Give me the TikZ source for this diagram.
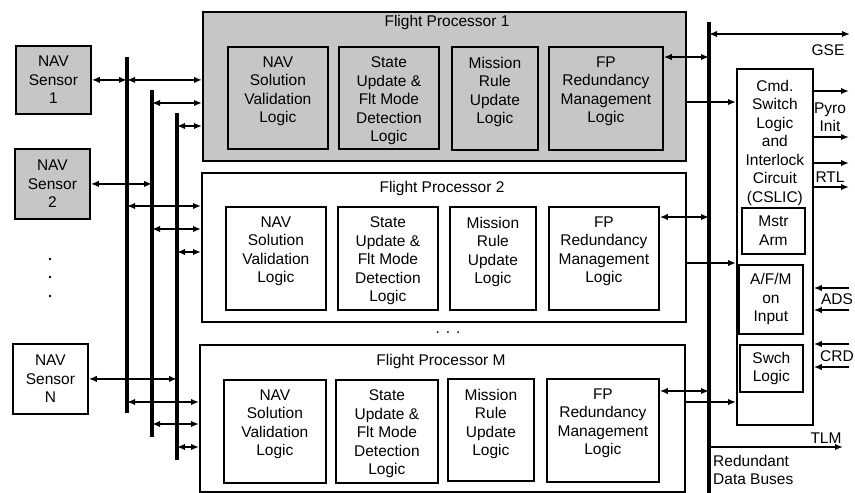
\documentclass[tikz,border=0pt]{standalone}
\usepackage{fontspec}
\setmainfont{Liberation Sans}
\usetikzlibrary{arrows.meta,calc}
\colorlet{shade}{gray!45}
\tikzset{
  x=1pt,y=-1pt,
  txt/.style={font=\fontsize{15.5}{18.5}\selectfont,align=center,inner sep=0pt},
  box/.style={draw,line width=1.8pt,inner sep=0pt,anchor=north west},
  sbox/.style={box,fill=shade},
  bus/.style={line width=3.5pt},
  ar/.style={line width=1.7pt,-{Latex[length=8pt,width=6.5pt]}},
  dar/.style={line width=1.7pt,{Latex[length=8pt,width=6.5pt]}-{Latex[length=8pt,width=6.5pt]}},
}
\newcommand\bx[6]{\node[#1,minimum width={#4-#2},minimum height={#5-#3}] (#6) at (#2,#3) {};}
\newcommand\btxt[2]{\node[txt,anchor=north] at ([yshift=-10.6pt]#1.north) {#2};}
\begin{document}
\begin{tikzpicture}
\useasboundingbox (0,0) rectangle (855,493);
% ---------- sensors
\bx{sbox}{15}{45}{90}{113}{s1}
\node[txt] at (s1.center) {NAV\\Sensor\\1};
\bx{sbox}{14}{148}{89}{218}{s2}
\node[txt] at (s2.center) {NAV\\Sensor\\2};
\bx{box}{12}{343}{87}{413}{sN}
\node[txt] at (sN.center) {NAV\\Sensor\\N};
\foreach \yy in {259,277,296} \fill (50,\yy) circle (1.4);
% ---------- flight processor 1
\bx{sbox}{202}{11}{685}{160}{fp1}
\node[txt] at (447,22) {Flight Processor 1};
\bx{sbox}{227}{46}{327}{148}{f1a}
\bx{sbox}{338}{46}{438}{148}{f1b}
\bx{sbox}{451}{46}{537}{149}{f1c}
\bx{sbox}{548}{46}{662}{149}{f1d}
\btxt{f1a}{NAV\\Solution\\Validation\\Logic}
\btxt{f1b}{State\\Update \&\\Flt Mode\\Detection\\Logic}
\btxt{f1c}{Mission\\Rule\\Update\\Logic}
\btxt{f1d}{FP\\Redundancy\\Management\\Logic}
% ---------- flight processor 2
\bx{box}{201}{172}{685}{321}{fp2}
\node[txt] at (442,188) {Flight Processor 2};
\bx{box}{225}{206}{325}{309}{f2a}
\bx{box}{337}{206}{437}{309}{f2b}
\bx{box}{449}{206}{535}{309}{f2c}
\bx{box}{548}{206}{658}{309}{f2d}
\btxt{f2a}{NAV\\Solution\\Validation\\Logic}
\btxt{f2b}{State\\Update \&\\Flt Mode\\Detection\\Logic}
\btxt{f2c}{Mission\\Rule\\Update\\Logic}
\btxt{f2d}{FP\\Redundancy\\Management\\Logic}
\node[txt] at (448,333) {.\hspace{6pt}.\hspace{6pt}.};
% ---------- flight processor M
\bx{box}{199}{344}{684}{491}{fpM}
\node[txt] at (441,361) {Flight Processor M};
\bx{box}{223}{379}{325}{482}{fMa}
\bx{box}{335}{379}{437}{482}{fMb}
\bx{box}{447}{378}{533}{480}{fMc}
\bx{box}{546}{378}{658}{481}{fMd}
\btxt{fMa}{NAV\\Solution\\Validation\\Logic}
\btxt{fMb}{State\\Update \&\\Flt Mode\\Detection\\Logic}
\btxt{fMc}{Mission\\Rule\\Update\\Logic}
\btxt{fMd}{FP\\Redundancy\\Management\\Logic}
% ---------- CSLIC
\bx{box}{736}{68}{812}{424}{cs}
\node[txt,anchor=north] at ([yshift=-11.6pt]cs.north) {Cmd.\\Switch\\Logic\\and\\Interlock\\Circuit\\(CSLIC)};
\node[box,txt,minimum width=63,minimum height=46] (ma) at (741,207) {Mstr\\Arm};
\node[box,txt,minimum width=64,minimum height=69] (af) at (738,264) {A/F/M\\on\\Input};
\node[box,txt,minimum width=63,minimum height=47] (sw) at (739,344) {Swch\\Logic};
% ---------- left buses
\coordinate (b1t) at (127,57);  \coordinate (b1b) at (127,413);
\coordinate (b2t) at (152,90);  \coordinate (b2b) at (152,437);
\coordinate (b3t) at (177,113); \coordinate (b3b) at (177,460);
\draw[bus] (b1t) -- (b1b);
\draw[bus] (b2t) -- (b2b);
\draw[bus] (b3t) -- (b3b);
% sensor links
\draw[dar] (s1.east) -- (s1.east -| b1t);
\draw[dar] (s2.east) -- (s2.east -| b2t);
\draw[dar] (sN.east) -- (sN.east -| b3t);
% bus taps to processors
\draw[dar] (s1.east -| b1t) -- (s1.east -| fp1.west);
\coordinate (t12) at (152,103); \draw[dar] (t12) -- (t12 -| fp1.west);
\coordinate (t13) at (177,126); \draw[dar] (t13) -- (t13 -| fp1.west);
\coordinate (t21) at (127,206); \draw[dar] (t21) -- (t21 -| fp2.west);
\coordinate (t22) at (152,229); \draw[dar] (t22) -- (t22 -| fp2.west);
\coordinate (t23) at (177,252); \draw[dar] (t23) -- (t23 -| fp2.west);
\coordinate (tM1) at (127,402); \draw[dar] (tM1) -- (tM1 -| fpM.west);
\coordinate (tM2) at (152,424); \draw[dar] (tM2) -- (tM2 -| fpM.west);
\coordinate (tM3) at (177,447); \draw[dar] (tM3) -- (tM3 -| fpM.west);
% ---------- right bus
\coordinate (rt) at (709,22); \coordinate (rb) at (709,493);
\draw[bus,line width=3.8pt] (rt) -- (rb);
\coordinate (g) at (709,34); \coordinate (gE) at (850,34);
\draw[dar] (g) -- (gE);
\node[txt] (gse) at (828,50) {GSE};
\coordinate (p1) at (709,57);  \draw[dar] (p1 -| f1d.east) -- (p1);
\coordinate (p2) at (709,217); \draw[dar] (p2 -| f2d.east) -- (p2);
\coordinate (pM) at (709,391); \draw[dar] (pM -| fMd.east) -- (pM);
\coordinate (q1) at (700,102); \draw[ar] (q1 -| fp1.east) -- (q1 -| cs.west);
\coordinate (q2) at (700,263); \draw[ar] (q2 -| fp2.east) -- (q2 -| cs.west);
\coordinate (qM) at (700,402); \draw[ar] (qM -| fpM.east) -- (qM -| cs.west);
% TLM
\coordinate (tl) at (709,447); \coordinate (tlE) at (843,447);
\draw[ar] (tl) -- (tlE);
\node[txt,anchor=base] at (826,443) {TLM};
\node[txt,anchor=north west,align=left] at (713,455) {Redundant\\Data Buses};
% ---------- CSLIC outputs / inputs
\coordinate (o1) at (849,91);  \draw[ar] (o1 -| cs.east) -- (o1);
\coordinate (o2) at (849,137); \draw[ar] (o2 -| cs.east) -- (o2);
\node[txt] at (830,117) {Pyro\\Init};
\coordinate (o3) at (849,163); \draw[ar] (o3 -| cs.east) -- (o3);
\coordinate (o4) at (849,187); \draw[ar] (o4 -| cs.east) -- (o4);
\node[txt] at (830,177) {RTL};
\coordinate (i1) at (849,288); \draw[ar] (i1) -- (i1 -| cs.east);
\coordinate (i2) at (849,310); \draw[ar] (i2) -- (i2 -| cs.east);
\node[txt] at (837,299) {ADS};
\coordinate (i3) at (849,344); \draw[ar] (i3) -- (i3 -| cs.east);
\coordinate (i4) at (849,367); \draw[ar] (i4) -- (i4 -| cs.east);
\node[txt] at (837,356) {CRD};
\end{tikzpicture}
\end{document}
